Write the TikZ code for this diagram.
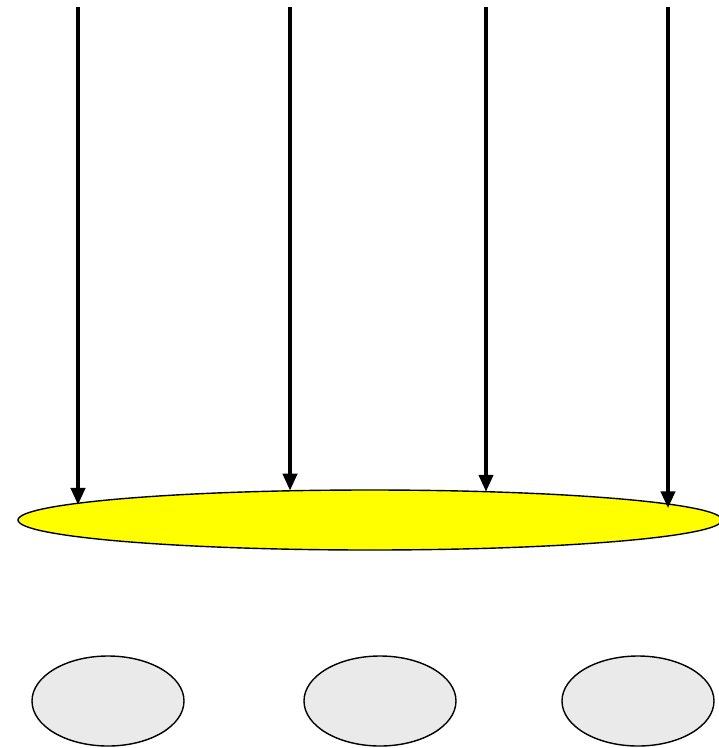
\documentclass[tikz,border=0pt]{standalone}
\usetikzlibrary{shapes.geometric,arrows.meta}
\definecolor{ylw}{RGB}{255,255,0}
\definecolor{lgray}{RGB}{234,234,234}
\begin{document}
\begin{tikzpicture}[x=1pt,y=-1pt,
  bigell/.style={ellipse,draw=black,line width=1.4pt,fill=ylw,inner sep=0pt,outer sep=0pt,minimum width=704pt,minimum height=60pt},
  smallell/.style={ellipse,draw=black,line width=1.4pt,fill=lgray,inner sep=0pt,outer sep=0pt,minimum width=152pt,minimum height=90pt},
  feed/.style={line width=4pt,-{Triangle[length=17pt,width=14pt]}}]
\useasboundingbox (0,0) rectangle (719,748);
\node[bigell] (e) at (370,520) {};
\node[smallell] (g1) at (108,701) {};
\node[smallell] (g2) at (380,701) {};
\node[smallell] (g3) at (638,701) {};
\coordinate (t1) at (78,7);
\coordinate (t2) at (290,7);
\coordinate (t3) at (486,7);
\coordinate (t4) at (668,7);
\draw[feed] (t1) -- ([yshift=-4pt]t1 |- e.176.6);
\draw[feed] (t2) -- (t2 |- e.159.4);
\draw[feed] (t3) -- (t3 |- e.13.5);
\draw[feed] (t4) -- ([yshift=-4pt]t4 |- e.3.0);
\end{tikzpicture}
\end{document}
